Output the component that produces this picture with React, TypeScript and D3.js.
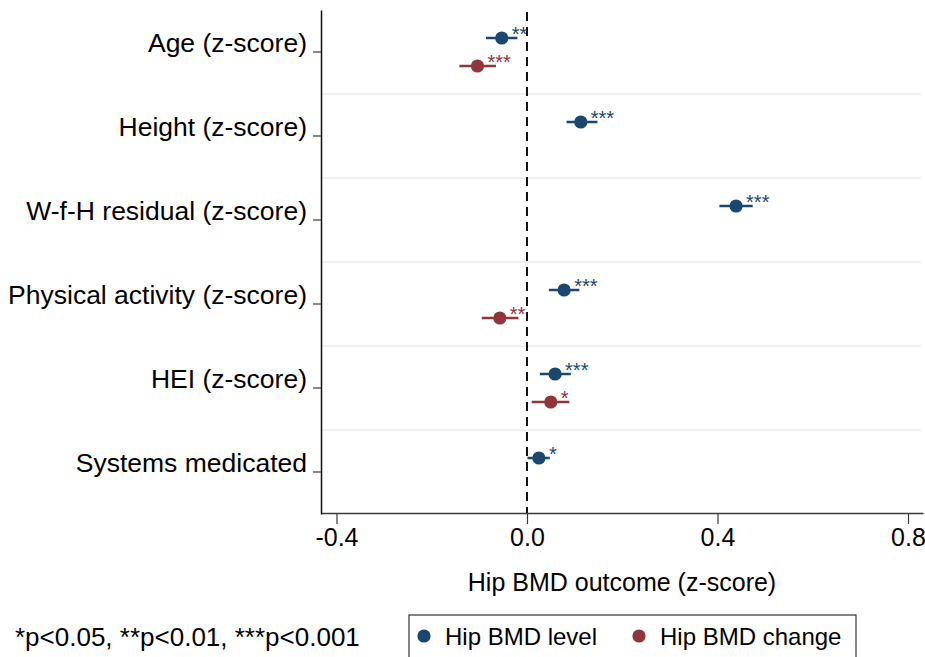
import { useEffect, useRef } from "react"
import * as d3 from "d3"

const categories = [
  "Age (z-score)",
  "Height (z-score)",
  "W-f-H residual (z-score)",
  "Physical activity (z-score)",
  "HEI (z-score)",
  "Systems medicated",
]

// Hip BMD level: estimate, 95% CI, significance
const levelEst = [-0.053, 0.113, 0.439, 0.078, 0.059, 0.025]
const levelLo = [-0.086, 0.083, 0.404, 0.046, 0.027, 0.001]
const levelHi = [-0.02, 0.148, 0.474, 0.11, 0.092, 0.048]
const levelStars = ["**", "***", "***", "***", "***", "*"]

// Hip BMD change (only some predictors)
const changeEst = [-0.104, null, null, -0.057, 0.05, null]
const changeLo = [-0.142, null, null, -0.095, 0.01, null]
const changeHi = [-0.065, null, null, -0.018, 0.089, null]
const changeStars = ["***", "", "", "**", "*", ""]

const xTicks = [-0.4, 0, 0.4, 0.8]

const BLUE = "#1a476f"
const RED = "#90353b"
const FONT = "Arial, 'Liberation Sans', Helvetica, sans-serif"

export default function App() {
  const svgRef = useRef<SVGSVGElement>(null)
  const width = 925
  const height = 657

  useEffect(() => {
    if (!svgRef.current) return
    const svg = d3.select(svgRef.current)
    svg.selectAll("*").remove()

    const left = 321
    const right = 923
    const top = 10
    const bottom = 514

    const x = d3.scaleLinear().domain([-0.4325, 0.8315]).range([left, right])
    const y = d3.scaleBand().domain(categories).range([top, bottom]).padding(0)
    const off = y.bandwidth() / 6

    svg.append("rect").attr("width", width).attr("height", height).attr("fill", "#fff")

    // gridlines between categories
    svg
      .append("g")
      .selectAll("line")
      .data(categories.slice(1))
      .enter()
      .append("line")
      .attr("x1", left)
      .attr("x2", right - 2)
      .attr("y1", (d) => y(d) || 0)
      .attr("y2", (d) => y(d) || 0)
      .attr("stroke", "#e6eef1")
      .attr("stroke-width", 1.5)

    // zero line
    svg
      .append("line")
      .attr("x1", x(0))
      .attr("x2", x(0))
      .attr("y1", top + 2)
      .attr("y2", bottom)
      .attr("stroke", "#111")
      .attr("stroke-width", 2)
      .attr("stroke-dasharray", "9,6")

    // x axis
    const xAxis = svg
      .append("g")
      .attr("transform", `translate(0, ${bottom - 1})`)
      .call(
        d3
          .axisBottom(x)
          .tickValues(xTicks)
          .tickSize(11)
          .tickSizeOuter(0)
          .tickPadding(4)
          .tickFormat((d) => d3.format(".1f")(d as number).replace("−", "-")),
      )
    xAxis.select(".domain").attr("stroke", "#3a3a3a").attr("stroke-width", 1.5)
    xAxis.selectAll(".tick line").attr("stroke", "#3a3a3a").attr("stroke-width", 1.2)
    xAxis
      .selectAll(".tick text")
      .attr("fill", "#000")
      .attr("font-size", "25px")
      .attr("font-family", FONT)

    // y axis
    const yAxis = svg
      .append("g")
      .attr("transform", `translate(${left}, 0)`)
      .call(d3.axisLeft(y).tickSize(8).tickSizeOuter(0).tickPadding(6))
    yAxis.select(".domain").attr("stroke", "#111").attr("stroke-width", 1.5)
    yAxis.selectAll(".tick line").attr("stroke", "#3a3a3a").attr("stroke-width", 1.2)
    yAxis
      .selectAll(".tick text")
      .attr("fill", "#000")
      .attr("font-size", "26.5px")
      .attr("font-family", FONT)
      .attr("dy", "0em")

    const levelData = categories.map((c, i) => ({
      c,
      est: levelEst[i],
      lo: levelLo[i],
      hi: levelHi[i],
      stars: levelStars[i],
    }))
    const changeData = categories
      .map((c, i) => ({
        c,
        est: changeEst[i],
        lo: changeLo[i],
        hi: changeHi[i],
        stars: changeStars[i],
      }))
      .filter((d) => d.est !== null)

    const drawSeries = (data: any[], dy: number, color: string) => {
      const g = svg.append("g")
      const cy = (d: any) => (y(d.c) || 0) + y.bandwidth() / 2 + dy
      g.selectAll("line")
        .data(data)
        .enter()
        .append("line")
        .attr("x1", (d) => x(d.lo))
        .attr("x2", (d) => x(d.hi))
        .attr("y1", cy)
        .attr("y2", cy)
        .attr("stroke", color)
        .attr("stroke-width", 2.5)
      g.selectAll("circle")
        .data(data)
        .enter()
        .append("circle")
        .attr("cx", (d) => x(d.est))
        .attr("cy", cy)
        .attr("r", 6.6)
        .attr("fill", color)
      g.selectAll("text")
        .data(data)
        .enter()
        .append("text")
        .attr("x", (d) => x(d.est) + 10)
        .attr("y", (d) => cy(d) + 2.5)
        .attr("fill", color)
        .attr("font-size", "20px")
        .attr("font-family", FONT)
        .text((d) => d.stars)
    }

    drawSeries(levelData, -off, BLUE)
    drawSeries(changeData, off, RED)

    // x axis title
    svg
      .append("text")
      .attr("x", (left + right) / 2)
      .attr("y", 591)
      .attr("text-anchor", "middle")
      .attr("font-size", "25px")
      .attr("font-family", FONT)
      .text("Hip BMD outcome (z-score)")

    // note
    svg
      .append("text")
      .attr("x", 15)
      .attr("y", 646)
      .attr("font-size", "26px")
      .attr("font-family", FONT)
      .text("*p<0.05, **p<0.01, ***p<0.001")

    // legend
    const legend = svg.append("g")
    legend
      .append("rect")
      .attr("x", 409)
      .attr("y", 615)
      .attr("width", 447)
      .attr("height", 60)
      .attr("fill", "none")
      .attr("stroke", "#333")
      .attr("stroke-width", 1.2)
    const items = [
      { label: "Hip BMD level", color: BLUE, x: 424 },
      { label: "Hip BMD change", color: RED, x: 639 },
    ]
    items.forEach((it) => {
      legend.append("circle").attr("cx", it.x).attr("cy", 636).attr("r", 6.6).attr("fill", it.color)
      legend
        .append("text")
        .attr("x", it.x + 21)
        .attr("y", 645)
        .attr("font-size", "24px")
        .attr("font-family", FONT)
        .text(it.label)
    })
  }, [])

  return (
    <div style={{ position: "fixed", left: 0, top: 0 }}>
      <svg ref={svgRef} width={width} height={height} style={{ display: "block" }} />
    </div>
  )
}
